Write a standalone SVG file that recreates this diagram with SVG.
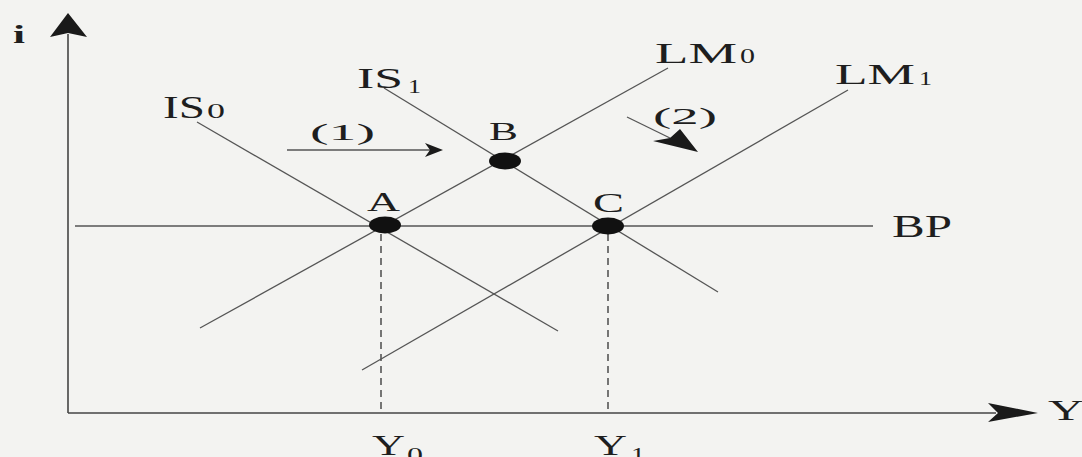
<svg xmlns="http://www.w3.org/2000/svg" width="1082" height="457" viewBox="0 0 1082 457">
<style>
.ln{stroke:#555;stroke-width:1.3;fill:none}
.ax{stroke:#444;stroke-width:1.6;fill:none}
.ds{stroke:#555;stroke-width:1.6;stroke-dasharray:7 5;fill:none}
.t{font-family:"Liberation Serif",serif;fill:#1e1e1e}
.hd{fill:#1a1a1a}
.pt{fill:#111}
</style>
<rect width="1082" height="457" fill="#f3f3f1"/>
<g id="axes">
<line class="ax" x1="68" y1="413" x2="68" y2="34"/>
<path class="hd" d="M68,13 L87,37 L68,33 L50,37 Z"/>
<line class="ax" x1="68" y1="413" x2="996" y2="413"/>
<path class="hd" d="M1038,413 L988,403 L998,413 L988,422 Z"/>
<text class="t" x="13" y="43" font-size="25" font-weight="bold" textLength="12" lengthAdjust="spacingAndGlyphs">i</text>
<text class="t" x="1048" y="420" font-size="30" textLength="36" lengthAdjust="spacingAndGlyphs">Y</text>
</g>
<g id="connectors">
<line id="IS0-line" class="ln" x1="197" y1="122" x2="558" y2="331"/>
<line id="IS1-line" class="ln" x1="384" y1="88" x2="718" y2="292"/>
<line id="LM0-line" class="ln" x1="200" y1="328" x2="668" y2="68"/>
<line id="LM1-line" class="ln" x1="362" y1="370" x2="848" y2="90"/>
<line id="BP-line" class="ln" x1="75" y1="226" x2="873" y2="226"/>
<line class="ds" x1="381" y1="234" x2="381" y2="413"/>
<line class="ds" x1="608" y1="234" x2="608" y2="413"/>
<line class="ln" x1="287" y1="150" x2="430" y2="150"/>
<path class="hd" d="M443,150 L425,143 L430,150 L425,157 Z"/>
<line class="ln" x1="627" y1="117" x2="672" y2="139"/>
<path class="hd" d="M698,152 L653,141 L670,138 L680,129 Z"/>
</g>
<g id="IS0">
<text class="t" x="163" y="118" font-size="31" textLength="42" lengthAdjust="spacingAndGlyphs">IS</text>
<text class="t" x="207" y="118" font-size="20" textLength="18" lengthAdjust="spacingAndGlyphs">0</text>
</g>
<g id="IS1">
<text class="t" x="357" y="88" font-size="30" textLength="46" lengthAdjust="spacingAndGlyphs">IS</text>
<text class="t" x="408" y="93" font-size="18" textLength="13" lengthAdjust="spacingAndGlyphs">1</text>
</g>
<g id="LM0">
<text class="t" x="655" y="63" font-size="30" textLength="82" lengthAdjust="spacingAndGlyphs">LM</text>
<text class="t" x="740" y="63" font-size="20" textLength="15" lengthAdjust="spacingAndGlyphs">0</text>
</g>
<g id="LM1">
<text class="t" x="835" y="84" font-size="30" textLength="80" lengthAdjust="spacingAndGlyphs">LM</text>
<text class="t" x="919" y="85" font-size="18" textLength="13" lengthAdjust="spacingAndGlyphs">1</text>
</g>
<g id="BP">
<text class="t" x="892" y="237" font-size="31" textLength="60" lengthAdjust="spacingAndGlyphs">BP</text>
</g>
<g id="A">
<ellipse class="pt" cx="385" cy="225" rx="16" ry="8.5"/>
<text class="t" x="367" y="211" font-size="28" textLength="33" lengthAdjust="spacingAndGlyphs">A</text>
</g>
<g id="B">
<ellipse class="pt" cx="505" cy="161" rx="16" ry="8.5"/>
<text class="t" x="489" y="140" font-size="26" textLength="29" lengthAdjust="spacingAndGlyphs">B</text>
</g>
<g id="C">
<ellipse class="pt" cx="608" cy="226" rx="16" ry="8.5"/>
<text class="t" x="593" y="212" font-size="28" textLength="31" lengthAdjust="spacingAndGlyphs">C</text>
</g>
<g id="label1">
<text class="t" x="310" y="140" font-size="24" textLength="65" lengthAdjust="spacingAndGlyphs">(1)</text>
</g>
<g id="label2">
<text class="t" x="653" y="124" font-size="24" textLength="64" lengthAdjust="spacingAndGlyphs">(2)</text>
</g>
<g id="Y0">
<text class="t" x="372" y="455" font-size="30" textLength="33" lengthAdjust="spacingAndGlyphs">Y</text>
<text class="t" x="407" y="462" font-size="20" textLength="16" lengthAdjust="spacingAndGlyphs">0</text>
</g>
<g id="Y1">
<text class="t" x="594" y="455" font-size="30" textLength="33" lengthAdjust="spacingAndGlyphs">Y</text>
<text class="t" x="631" y="462" font-size="20" textLength="14" lengthAdjust="spacingAndGlyphs">1</text>
</g>
</svg>
